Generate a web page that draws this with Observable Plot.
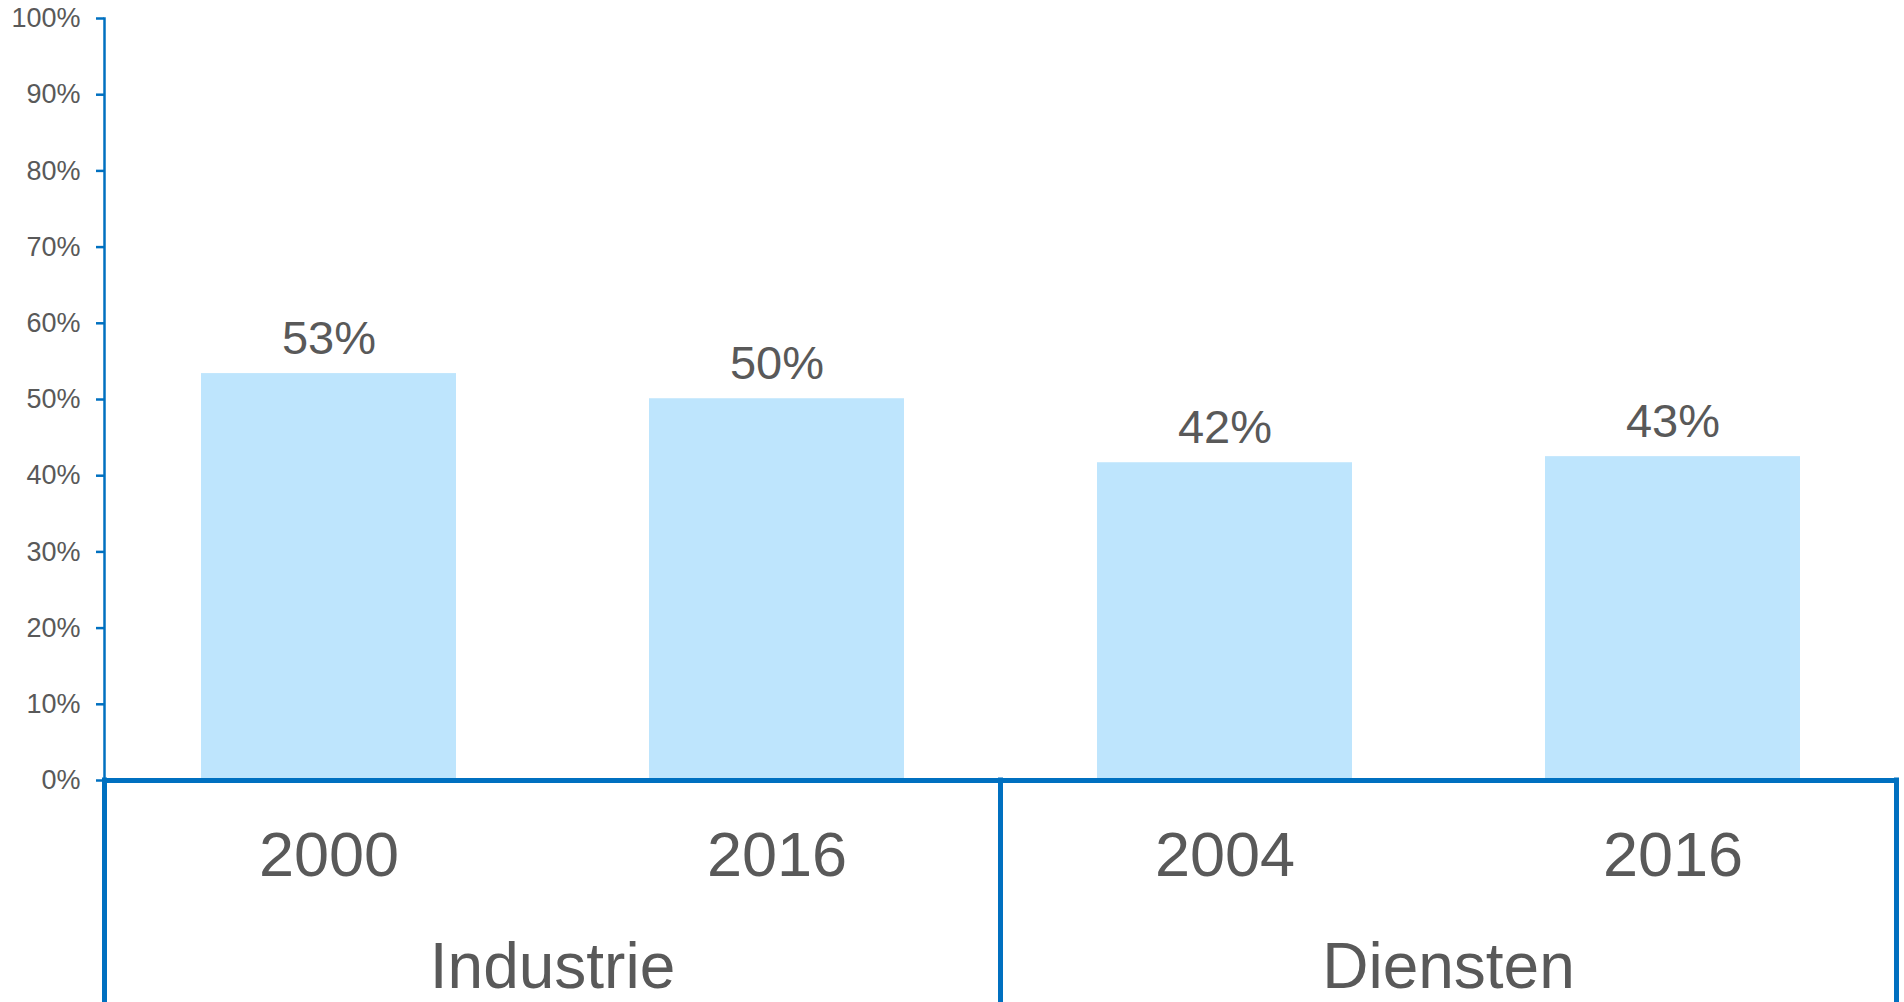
<!DOCTYPE html>
<html>
<head>
<meta charset="utf-8">
<script src="https://cdn.jsdelivr.net/npm/d3@7"></script>
<script src="https://cdn.jsdelivr.net/npm/@observablehq/plot@0.6"></script>
<style>
  html, body { margin: 0; padding: 0; background: #fff; }
  #chart svg { display: block; font-family: "Liberation Sans", Arial, sans-serif; }
</style>
</head>
<body>
<div id="chart"></div>
<script>
// ---- data ----
const sectors = ["Industrie", "Industrie", "Diensten", "Diensten"];
const years = ["2000", "2016", "2004", "2016"];
const values = [53.4, 50.1, 41.7, 42.5];
const yTicks = [0, 10, 20, 30, 40, 50, 60, 70, 80, 90, 100];
const groups = ["Industrie", "Diensten"];

// ---- styles ----
const BLUE = "#0070C0";
const BAR = "#BEE5FD";
const TEXT = "#595959";
const FONT = "'Liberation Sans', Arial, sans-serif";

const rows = values.map((v, i) => ({key: sectors[i] + " " + years[i], sector: sectors[i], year: years[i], value: v}));
const groupRows = groups.map(g => {
  const keys = rows.filter(r => r.sector === g).map(r => r.key);
  return {group: g, first: keys[0], last: keys[keys.length - 1], keys};
});

const W = 1904, H = 1002;
const chart = Plot.plot({
  width: W,
  height: H,
  marginLeft: 104,
  marginRight: 7,
  marginTop: 18,
  marginBottom: 222,
  style: {fontFamily: FONT, background: "#fff", overflow: "visible"},
  x: {domain: rows.map(r => r.key), paddingInner: 0.43, paddingOuter: 0.215, axis: null},
  y: {domain: [0, 100], axis: null},
  marks: [
    Plot.barY(rows, {x: "key", y: "value", fill: BAR}),
    Plot.frame({anchor: "left", stroke: BLUE, strokeWidth: 2.5}),
    Plot.axisY({ticks: yTicks, tickSize: 8, tickPadding: 16, tickFormat: d => d + "%", label: null,
      stroke: BLUE, strokeWidth: 2.5, fill: TEXT, fontSize: 27}),
    Plot.ruleY([0], {stroke: BLUE, strokeWidth: 5}),
    Plot.text(rows, {x: "key", y: "value", text: d => Math.round(d.value) + "%",
      lineAnchor: "bottom", dy: -20, fill: TEXT, fontSize: 47}),
    Plot.text(rows, {x: "key", y: () => 0, text: "year",
      lineAnchor: "bottom", dy: 95, fill: TEXT, fontSize: 63})
  ]
});

// group separators and group labels, positioned from the chart's own scales
const xs = chart.scale("x");
const ys = chart.scale("y");
const gap = (xs.step - xs.bandwidth) / 2;
const svg = d3.select(chart);
const y0 = ys.apply(0);
const bounds = [];
groupRows.forEach(g => {
  const left = xs.apply(g.first) - gap;
  const right = xs.apply(g.last) + xs.bandwidth + gap;
  bounds.push(left, right);
  svg.append("text")
    .attr("x", (left + right) / 2)
    .attr("y", y0 + 208)
    .attr("text-anchor", "middle")
    .attr("fill", TEXT)
    .attr("font-size", 64)
    .attr("font-family", FONT)
    .text(g.group);
});
Array.from(new Set(bounds.map(b => Math.round(b * 10) / 10))).forEach(bx => {
  svg.append("line")
    .attr("x1", bx).attr("x2", bx)
    .attr("y1", y0 - 2.5).attr("y2", H)
    .attr("stroke", BLUE).attr("stroke-width", 5);
});

document.getElementById("chart").appendChild(chart);
</script>
</body>
</html>
